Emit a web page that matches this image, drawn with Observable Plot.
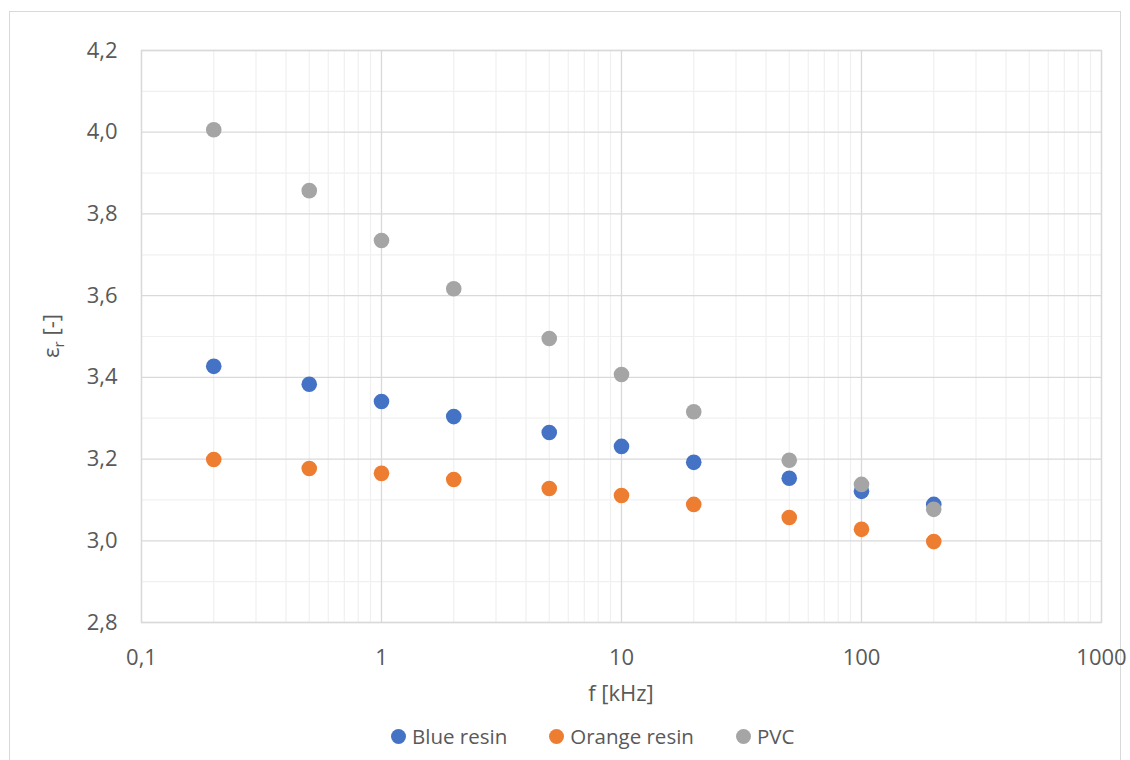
<!DOCTYPE html>
<html>
<head>
<meta charset="utf-8">
<script src="https://cdn.jsdelivr.net/npm/d3@7"></script>
<script src="https://cdn.jsdelivr.net/npm/@observablehq/plot@0.6"></script>
<style>
  html, body { margin: 0; padding: 0; background: #fff; width: 1130px; height: 760px; overflow: hidden; }
  #wrap { position: relative; width: 1130px; height: 760px; font-family: "Open Sans", "Liberation Sans", sans-serif; }
  #border { position: absolute; left: 9px; top: 11px; width: 1112px; height: 760px; border: 1px solid #d9d9d9; box-sizing: border-box; }
  #chart { position: absolute; left: 0; top: 0; }
  #legend { position: absolute; left: 391px; top: 722px; display: flex; font-size: 20.5px; color: #595959; }
  .item { display: flex; align-items: center; margin-right: 42px; }
  .sw { width: 15px; height: 15px; border-radius: 50%; margin-right: 6px; }
</style>
</head>
<body>
<div id="wrap">
  <div id="border"></div>
  <div id="chart"></div>
  <div id="legend"></div>
</div>
<script>
const freq = [0.2, 0.5, 1, 2, 5, 10, 20, 50, 100, 200];
const blueResin = [3.427, 3.383, 3.341, 3.304, 3.265, 3.231, 3.192, 3.153, 3.121, 3.089];
const orangeResin = [3.199, 3.177, 3.165, 3.150, 3.128, 3.111, 3.089, 3.057, 3.028, 2.998];
const pvc = [4.006, 3.857, 3.735, 3.617, 3.495, 3.407, 3.316, 3.197, 3.138, 3.077];
const seriesNames = ["Blue resin", "Orange resin", "PVC"];
const seriesColors = ["#4472C4", "#ED7D31", "#A5A5A5"];
const xTicks = [0.1, 1, 10, 100, 1000];
const xTickLabels = ["0,1", "1", "10", "100", "1000"];
const yTicks = [2.8, 3.0, 3.2, 3.4, 3.6, 3.8, 4.0, 4.2];
const yTickLabels = ["2,8", "3,0", "3,2", "3,4", "3,6", "3,8", "4,0", "4,2"];

const seriesValues = [blueResin, orangeResin, pvc];
const data = [];
seriesNames.forEach((s, i) => freq.forEach((f, j) => data.push({series: s, f, v: seriesValues[i][j]})));

const xMinor = [];
for (let d = 0.1; d < 1000; d *= 10) for (let k = 2; k <= 9; k++) xMinor.push(+(d * k).toPrecision(3));
const yMinor = [2.9, 3.1, 3.3, 3.5, 3.7, 3.9, 4.1];

const xFmt = (d) => xTickLabels[xTicks.findIndex(t => Math.abs(t - d) < 1e-9)];
const yFmt = (d) => yTickLabels[yTicks.findIndex(t => Math.abs(t - d) < 1e-9)];

const chart = Plot.plot({
  width: 1130,
  height: 715,
  marginLeft: 141,
  marginRight: 29,
  marginTop: 50,
  marginBottom: 93,
  style: { fontFamily: '"Open Sans", "Liberation Sans", sans-serif', fontSize: "22px", color: "#595959", background: "transparent" },
  x: { type: "log", domain: [0.1, 1000], label: null },
  y: { domain: [2.8, 4.2], label: null },
  color: { domain: seriesNames, range: seriesColors },
  marks: [
    Plot.ruleX(xMinor, { stroke: "#f0f0f0", strokeWidth: 1.2 }),
    Plot.ruleY(yMinor, { stroke: "#f0f0f0", strokeWidth: 1.2 }),
    Plot.ruleX(xTicks, { stroke: "#d9d9d9", strokeWidth: 1.3 }),
    Plot.ruleY(yTicks, { stroke: "#d9d9d9", strokeWidth: 1.3 }),
    Plot.frame({ stroke: "#d9d9d9", strokeWidth: 1.3 }),
    Plot.axisX({ ticks: xTicks, tickFormat: xFmt, tickSize: 0, tickPadding: 27, label: null, fill: "#595959", fontSize: 22 }),
    Plot.axisY({ ticks: yTicks, tickFormat: yFmt, tickSize: 0, tickPadding: 24, label: null, fill: "#595959", fontSize: 22 }),
    Plot.dot(data, { x: "f", y: "v", fill: "series", r: 7.8, stroke: null })
  ]
});
document.getElementById("chart").appendChild(chart);

const svg = d3.select(chart);
svg.append("text")
  .attr("x", 621).attr("y", 701)
  .attr("text-anchor", "middle")
  .attr("fill", "#595959")
  .attr("font-size", 22)
  .text("f [kHz]");
const yl = svg.append("text")
  .attr("transform", "translate(59,336) rotate(-90)")
  .attr("text-anchor", "middle")
  .attr("fill", "#595959")
  .attr("font-size", 22);
yl.append("tspan").text("ε");
yl.append("tspan").attr("font-size", 15).attr("dy", 5).text("r");
yl.append("tspan").attr("dy", -5).text(" [-]");

const legend = document.getElementById("legend");
seriesNames.forEach((s, i) => {
  const it = document.createElement("div");
  it.className = "item";
  const sw = document.createElement("div");
  sw.className = "sw";
  sw.style.background = seriesColors[i];
  const t = document.createElement("span");
  t.textContent = s;
  it.appendChild(sw); it.appendChild(t);
  legend.appendChild(it);
});
</script>
</body>
</html>
